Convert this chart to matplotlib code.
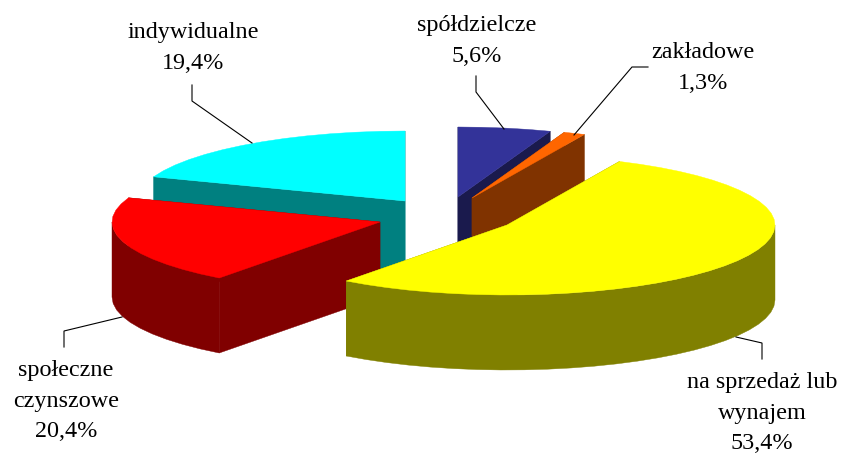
import numpy as np
import matplotlib
matplotlib.use('Agg')
import matplotlib.pyplot as plt
from matplotlib.patches import Polygon

plt.rcParams['font.family'] = ['Liberation Serif', 'DejaVu Serif']

# Values from the chart, clockwise from 12 o'clock
names = ['spółdzielcze', 'zakładowe', 'na sprzedaż lub\nwynajem', 'społeczne\nczynszowe', 'indywidualne']
values = [5.6, 1.3, 53.4, 20.4, 19.4]

# Colours (top, side)
top_colors = ['#333399', '#FF6600', '#FFFF00', '#FF0000', '#00FFFF']
side_colors = ['#1A1A4D', '#803300', '#808000', '#800000', '#008080']

# Pixel layout of the exploded pie
apex_x = [458, 472, 507, 380, 405]
apex_y = [197, 198, 225, 222, 201]
rx, ry, depth = 268, 70, 75
draw_order = [4, 0, 1, 3, 2]  # back to front

# label centre, leader path
label_pos = [(477, 41), (703, 68), (762, 413), (66, 401), (193, 48)]
leaders = [
    [(476, 76), (476, 92), (504, 129)],
    [(648, 67), (632, 67), (574, 135)],
    [(762, 359), (762, 343), (736, 337)],
    [(64, 347), (64, 331), (122, 317)],
    [(192, 85), (192, 101), (252, 143)],
]


def rim(cx, cy, a0, a1):
    # coarse steps, the original rim is visibly polygonal
    n = max(int((a1 - a0) / 5), 1)
    a = np.radians(np.linspace(a0, a1, n + 1))
    return np.column_stack([cx + rx * np.sin(a), cy - ry * np.cos(a)])


def wall(p, q):
    return [p, q, (q[0], q[1] + depth), (p[0], p[1] + depth)]


fig = plt.figure(figsize=(8.41, 4.54), dpi=100)
ax = fig.add_axes([0, 0, 1, 1])
ax.set_xlim(0, 841)
ax.set_ylim(454, 0)
ax.axis('off')

edges = np.concatenate([[0], np.cumsum(values)]) / sum(values) * 360

for z, i in enumerate(draw_order):
    cx, cy = apex_x[i], apex_y[i]
    pts = rim(cx, cy, edges[i], edges[i + 1])
    side = side_colors[i]
    polys = [(wall((cx, cy), pts[0]), side), (wall((cx, cy), pts[-1]), side)]
    # outer wall, only the part that faces the viewer
    a0, a1 = max(edges[i], 90), min(edges[i + 1], 270)
    if a0 < a1:
        front = rim(cx, cy, a0, a1)
        polys.append((np.vstack([front, (front + [0, depth])[::-1]]), side))
    polys.append((np.vstack([[cx, cy], pts]), top_colors[i]))
    for xy, col in polys:
        ax.add_patch(Polygon(xy, closed=True, facecolor=col, edgecolor=col, lw=0.3, zorder=z + 1))

for i in range(len(values)):
    xs, ys = zip(*leaders[i])
    ax.plot(xs, ys, color='black', lw=0.8, zorder=10, solid_joinstyle='miter')
    label = names[i] + '\n' + f'{values[i]:.1f}%'.replace('.', ',')
    ax.text(label_pos[i][0], label_pos[i][1], label, ha='center', va='center',
            fontsize=17.4, color='black', linespacing=1.58, zorder=11)

fig.savefig('out.png', dpi=100, facecolor='white')
